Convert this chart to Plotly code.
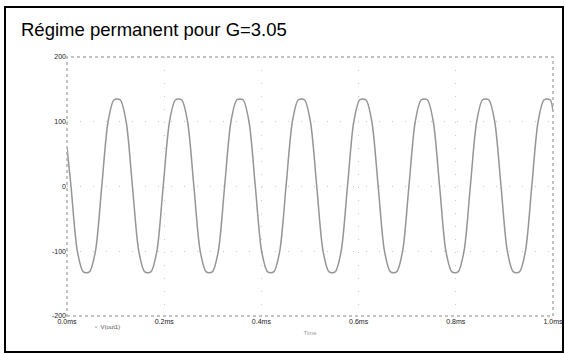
import plotly.graph_objects as go

# time (us) and output voltage
time_us = [
    0, 8.3, 21.3, 33.7, 46.1, 58.5, 71.5, 84.5, 96.9,
    109.3, 121.7, 134.7, 147.7, 160.1, 172.5, 184.9, 197.9, 210.9, 223.3,
    235.7, 248.1, 261.1, 274.1, 286.5, 298.9, 311.3, 324.3, 337.3, 349.7,
    362.1, 374.5, 387.5, 400.5, 412.9, 425.3, 437.7, 450.7, 463.7, 476.1,
    488.5, 500.9, 513.9, 526.9, 539.3, 551.7, 564.1, 577.1, 590.1, 602.5,
    614.9, 627.3, 640.3, 653.3, 665.7, 678.1, 690.5, 703.5, 716.5, 728.9,
    741.3, 753.7, 766.7, 779.7, 792.1, 804.5, 816.9, 829.9, 842.9, 855.3,
    867.7, 880.1, 893.1, 906.1, 918.5, 930.9, 943.3, 956.3, 969.3, 981.7,
    994.1, 1000,
]
v_out = [
    60, 0, -100, -132, -132, -100, 0, 100, 134,
    134, 100, 0, -100, -132, -132, -100, 0, 100, 134,
    134, 100, 0, -100, -132, -132, -100, 0, 100, 134,
    134, 100, 0, -100, -132, -132, -100, 0, 100, 134,
    134, 100, 0, -100, -132, -132, -100, 0, 100, 134,
    134, 100, 0, -100, -132, -132, -100, 0, 100, 134,
    134, 100, 0, -100, -132, -132, -100, 0, 100, 134,
    134, 100, 0, -100, -132, -132, -100, 0, 100, 134,
    134, 116,
]

x_ticks = [0, 200, 400, 600, 800, 1000]
x_labels = ["0.0ms", "0.2ms", "0.4ms", "0.6ms", "0.8ms", "1.0ms"]
y_ticks = [-200, -100, 0, 100, 200]
y_labels = ["-200", "-100", "0", "100", "200"]

fig = go.Figure()
fig.add_trace(go.Scatter(
    x=time_us, y=v_out, mode="lines",
    line=dict(color="#959595", width=1.5, shape="spline", smoothing=0.8),
    showlegend=False,
))

fig.update_layout(
    width=565, height=354,
    margin=dict(l=67, r=12, t=57, b=38),
    paper_bgcolor="white", plot_bgcolor="white",
    font=dict(family="Liberation Sans, Arial, sans-serif"),
    title=dict(text="Régime permanent pour G=3.05", x=21 / 565, xanchor="left",
               y=1 - 23 / 354, yanchor="top",
               font=dict(size=18.5, color="black")),
)

fig.update_xaxes(
    range=[0, 1000], tickvals=x_ticks, ticktext=x_labels, automargin=False,
    tickfont=dict(size=7, color="#222"), ticks="",
    showgrid=True, gridcolor="#c8c8c8", griddash="1px,12px", gridwidth=1,
    zeroline=False, showline=False,
    title=dict(text="Time", font=dict(size=6, color="#999"), standoff=6),
)
fig.update_yaxes(
    range=[-200, 200], tickvals=y_ticks, ticktext=y_labels, automargin=False,
    tickfont=dict(size=7, color="#222"), ticks="",
    showgrid=True, gridcolor="#c8c8c8", griddash="1px,12px", gridwidth=1,
    zeroline=False, showline=False,
)

# dotted frame of the plot area
fig.add_shape(type="rect", xref="paper", yref="paper", x0=0, x1=1, y0=0, y1=1,
              line=dict(color="#b0b0b0", width=1.5, dash="dot"))
# black frame around the whole picture
fig.add_shape(type="rect", xref="paper", yref="paper",
              x0=-62 / 486, x1=496 / 486, y0=-36 / 259, y1=309 / 259,
              line=dict(color="black", width=2))

# legend entry at the bottom
fig.add_annotation(xref="paper", yref="paper", x=26 / 486, y=-11 / 259,
                   xanchor="left", yanchor="middle", showarrow=False,
                   text="▫  V(out1)", font=dict(size=6, color="#555"))

# page body has a default margin, drop it so the figure sits at 0,0
fig.write_html("out.html", config={"displayModeBar": False},
               post_script="document.body.style.margin='0';")
